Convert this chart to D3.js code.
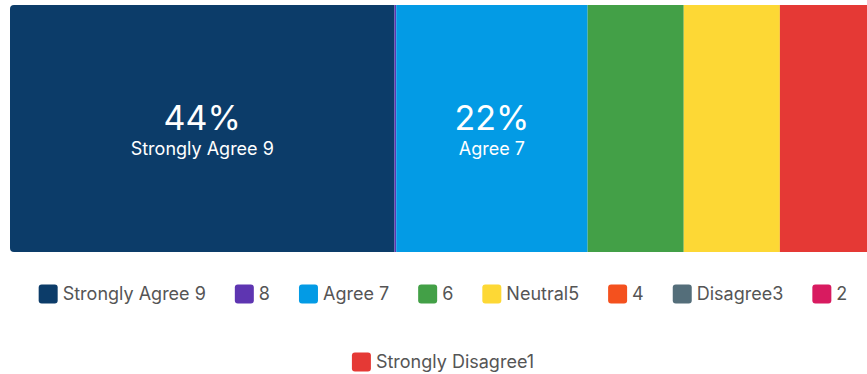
<!DOCTYPE html>
<html>
<head>
<meta charset="utf-8">
<script src="https://cdn.jsdelivr.net/npm/d3@7/dist/d3.min.js"></script>
<style>
  html, body { margin: 0; padding: 0; background: #fff; overflow: hidden; }
  svg { display: block; font-family: Inter, Roboto, "Noto Sans", sans-serif; }
</style>
</head>
<body>
<div id="chart"></div>
<script>
// Survey response shares (percent of respondents), in scale order
const categories = ["Strongly Agree 9", "8", "Agree 7", "6", "Neutral5", "4", "Disagree3", "2", "Strongly Disagree1"];
const shares = [44.4, 0.2, 22.1, 11.1, 11.1, 0, 0, 0, 11.1];
const colors = ["#0c3c69", "#5e35b1", "#039be5", "#43a047", "#fdd835", "#f4511e", "#546e7a", "#d81b60", "#e53935"];

const width = 886, height = 374;
const barTop = 5, barHeight = 247, barLeft = 10, barRight = 876;

const svg = d3.select("#chart").append("svg")
  .attr("width", width)
  .attr("height", height);

const total = d3.sum(shares);
const x = d3.scaleLinear().domain([0, total]).range([barLeft, barRight]);
const color = d3.scaleOrdinal().domain(categories).range(colors);

// cumulative stacking
let acc = 0;
const segs = categories.map((c, i) => {
  const s = { name: c, value: shares[i], x0: acc, x1: acc + shares[i] };
  acc += shares[i];
  return s;
});

svg.append("clipPath").attr("id", "barClip")
  .append("rect")
  .attr("x", barLeft).attr("y", barTop)
  .attr("width", barRight - barLeft).attr("height", barHeight)
  .attr("rx", 4).attr("ry", 4);

const bar = svg.append("g").attr("clip-path", "url(#barClip)");
bar.selectAll("rect")
  .data(segs.filter(d => d.value > 0))
  .join("rect")
  .attr("x", d => x(d.x0))
  .attr("y", barTop)
  .attr("width", d => x(d.x1) - x(d.x0))
  .attr("height", barHeight)
  .attr("fill", d => color(d.name));

// in-bar labels for the larger segments
const labeled = segs.filter(d => d.value / total >= 0.2);
const lg = svg.append("g").attr("fill", "#fff").attr("text-anchor", "middle");
labeled.forEach(d => {
  const cx = (x(d.x0) + x(d.x1)) / 2;
  lg.append("text")
    .attr("x", cx).attr("y", 129.5)
    .attr("font-size", 34)
    .text(Math.round(d.value / total * 100) + "%");
  lg.append("text")
    .attr("x", cx).attr("y", 154.5)
    .attr("font-size", 18)
    .text(d.name);
});

// legend, wrapped into centered rows
const sw = 19, gapText = 5, gapItem = 29, rowYs = [294, 362];
const legend = svg.append("g");
const items = categories.map(c => {
  const g = legend.append("g");
  g.append("rect").attr("width", sw).attr("height", sw).attr("rx", 3).attr("ry", 3)
    .attr("y", -sw / 2).attr("fill", color(c));
  const t = g.append("text").attr("x", sw + gapText).attr("dy", "0.35em")
    .attr("font-size", 18).attr("fill", "#555").text(c);
  return { g, w: sw + gapText + t.node().getComputedTextLength() };
});

const maxRow = width - 20;
const rows = [[]];
let rowW = 0;
items.forEach(it => {
  const add = (rows[rows.length - 1].length ? gapItem : 0) + it.w;
  if (rowW + add > maxRow && rows[rows.length - 1].length) {
    rows.push([it]); rowW = it.w;
  } else {
    rows[rows.length - 1].push(it); rowW += add;
  }
});
rows.forEach((row, ri) => {
  const rw = d3.sum(row, d => d.w) + gapItem * (row.length - 1);
  let cx = (width - rw) / 2;
  row.forEach(it => {
    it.g.attr("transform", `translate(${cx},${rowYs[ri]})`);
    cx += it.w + gapItem;
  });
});
</script>
</body>
</html>
